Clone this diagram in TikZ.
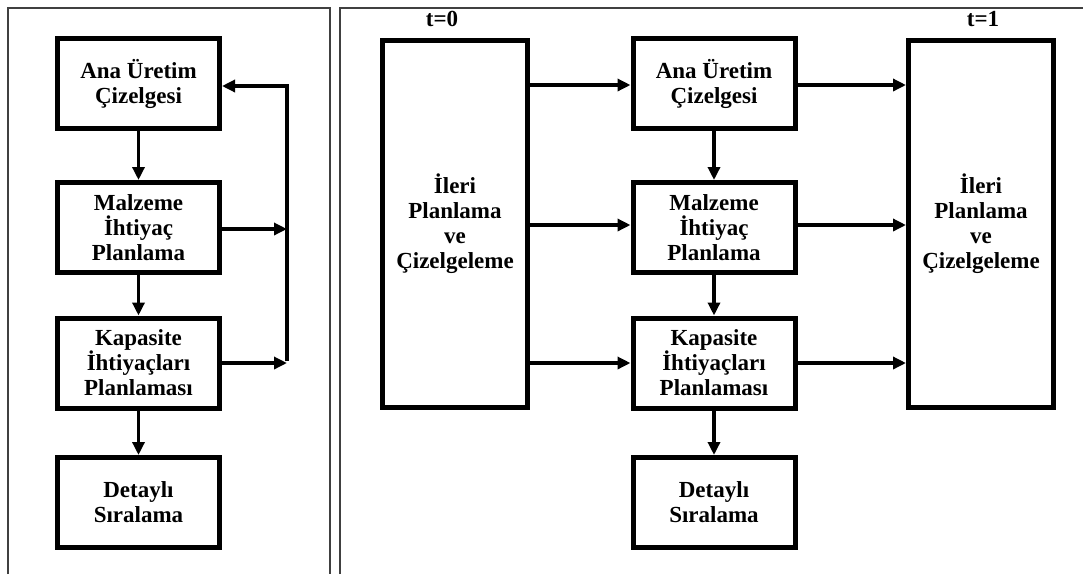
\documentclass[tikz,border=0pt]{standalone}
\usepackage{fontspec}
\setmainfont{Liberation Serif}
\usetikzlibrary{arrows.meta}
\begin{document}
\begin{tikzpicture}[x=1pt,y=-1pt,
  frameline/.style={line width=1.2pt,draw=black!75},
  stepbox/.style={draw,line width=5pt,rectangle,align=center,
    minimum width=162pt,minimum height=90pt,inner sep=0pt,
    font=\fontsize{23}{25}\selectfont\bfseries},
  tallbox/.style={stepbox,minimum width=145pt,minimum height=367pt},
  flow/.style={line width=3.5pt,-{Triangle[length=13pt,width=12pt]}},
  timelabel/.style={font=\fontsize{23}{25}\selectfont\bfseries,inner sep=0pt}]
\useasboundingbox (0,0) rectangle (1083,574);
% panel frames
\draw[frameline] (8,574) -- (8,8) -- (330,8) -- (330,574);
\draw[frameline] (340,574) -- (340,8) -- (1083,8);

% left panel: hierarchical chain with feedback
\node[stepbox] (a1) at (138.5,83.5) {Ana Üretim\\Çizelgesi};
\node[stepbox] (a2) at (138.5,227.5) {Malzeme\\İhtiyaç\\Planlama};
\node[stepbox] (a3) at (138.5,363) {Kapasite\\İhtiyaçları\\Planlaması};
\node[stepbox] (a4) at (138.5,502.5) {Detaylı\\Sıralama};
\draw[flow] (a1) -- (a2);
\draw[flow] (a2) -- (a3);
\draw[flow] (a3) -- (a4);
\coordinate (fbtop) at (287,86);
\coordinate (fbmid) at (287,229);
\coordinate (fbbot) at (287,363);
\draw[flow] (a2.east |- fbmid) -- (fbmid);
\draw[flow] (a3.east |- fbbot) -- (fbbot);
\draw[flow] ([yshift=1.75pt]fbbot) -- (fbtop) -- (a1.east |- fbtop);

% right panel: planning between two time points
\node[tallbox] (p0) at (455,224) {İleri\\Planlama\\ve\\Çizelgeleme};
\node[tallbox] (p1) at (981,224) {İleri\\Planlama\\ve\\Çizelgeleme};
\node[timelabel] (t0) at (442,19) {t=0};
\node[timelabel] (t1) at (983,19) {t=1};
\node[stepbox] (b1) at (714,83.5) {Ana Üretim\\Çizelgesi};
\node[stepbox] (b2) at (714,227.5) {Malzeme\\İhtiyaç\\Planlama};
\node[stepbox] (b3) at (714,363) {Kapasite\\İhtiyaçları\\Planlaması};
\node[stepbox] (b4) at (714,502.5) {Detaylı\\Sıralama};
\draw[flow] (b1) -- (b2);
\draw[flow] (b2) -- (b3);
\draw[flow] (b3) -- (b4);
\foreach \n/\yy in {b1/85,b2/225,b3/363}{
  \draw[flow] (p0.east |- 0,\yy) -- (\n.west |- 0,\yy);
  \draw[flow] (\n.east |- 0,\yy) -- (p1.west |- 0,\yy);
}
\end{tikzpicture}
\end{document}
